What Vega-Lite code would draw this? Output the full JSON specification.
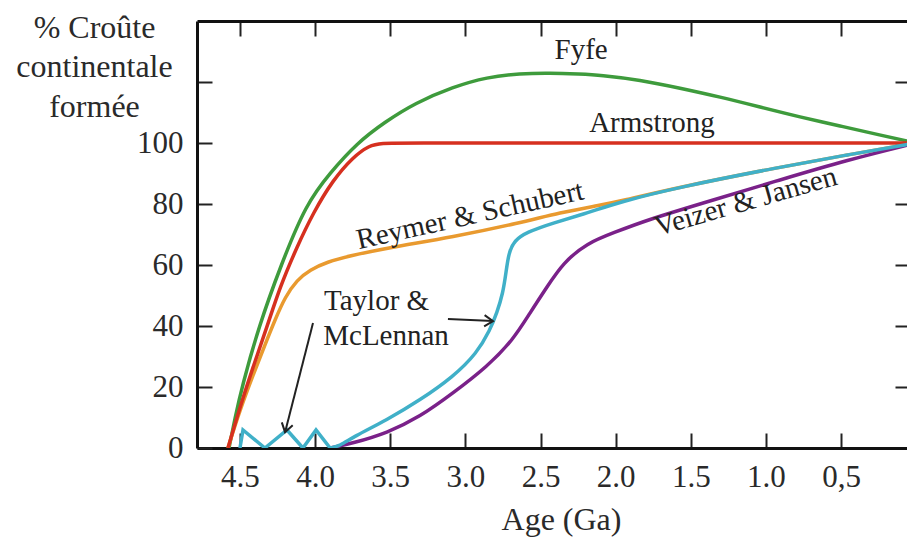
{
  "$schema": "https://vega.github.io/schema/vega-lite/v6.json",
  "width": 710,
  "height": 427,
  "autosize": {"type": "none"},
  "padding": {"left": 197, "top": 21, "right": 0, "bottom": 89},
  "background": "white",
  "config": {
    "view": {"stroke": null},
    "font": "Liberation Serif",
    "axis": {
      "labelFont": "Liberation Serif",
      "titleFont": "Liberation Serif",
      "labelFontSize": 31,
      "titleFontSize": 32,
      "titleFontWeight": "normal",
      "labelColor": "#2a2a2a",
      "titleColor": "#2a2a2a",
      "domainColor": "#111111",
      "tickColor": "#222222",
      "domainWidth": 3,
      "tickWidth": 2,
      "grid": false,
      "labelFlush": false,
      "labelOverlap": false
    }
  },
  "datasets": {
    "curves": [
      {"s": "Fyfe", "o": 0, "a": 4.573, "p": 0},
      {"s": "Fyfe", "o": 1, "a": 4.533, "p": 9.8},
      {"s": "Fyfe", "o": 2, "a": 4.487, "p": 20},
      {"s": "Fyfe", "o": 3, "a": 4.374, "p": 40},
      {"s": "Fyfe", "o": 4, "a": 4.227, "p": 60},
      {"s": "Fyfe", "o": 5, "a": 4.061, "p": 80},
      {"s": "Fyfe", "o": 6, "a": 3.901, "p": 90.2},
      {"s": "Fyfe", "o": 7, "a": 3.721, "p": 100},
      {"s": "Fyfe", "o": 8, "a": 3.535, "p": 106.9},
      {"s": "Fyfe", "o": 9, "a": 3.335, "p": 113.1},
      {"s": "Fyfe", "o": 10, "a": 3.082, "p": 118.4},
      {"s": "Fyfe", "o": 11, "a": 2.856, "p": 121.6},
      {"s": "Fyfe", "o": 12, "a": 2.636, "p": 122.8},
      {"s": "Fyfe", "o": 13, "a": 2.437, "p": 123.0},
      {"s": "Fyfe", "o": 14, "a": 2.237, "p": 122.6},
      {"s": "Fyfe", "o": 15, "a": 2.104, "p": 122.3},
      {"s": "Fyfe", "o": 16, "a": 1.838, "p": 120.7},
      {"s": "Fyfe", "o": 17, "a": 1.572, "p": 118.0},
      {"s": "Fyfe", "o": 18, "a": 1.305, "p": 115.1},
      {"s": "Fyfe", "o": 19, "a": 1.039, "p": 111.8},
      {"s": "Fyfe", "o": 20, "a": 0.773, "p": 108.5},
      {"s": "Fyfe", "o": 21, "a": 0.507, "p": 105.6},
      {"s": "Fyfe", "o": 22, "a": 0.24, "p": 102.6},
      {"s": "Fyfe", "o": 23, "a": 0, "p": 100},
      {"s": "Reymer", "o": 0, "a": 4.58, "p": 0},
      {"s": "Reymer", "o": 1, "a": 4.5, "p": 12.5},
      {"s": "Reymer", "o": 2, "a": 4.413, "p": 23.9},
      {"s": "Reymer", "o": 3, "a": 4.334, "p": 33.8},
      {"s": "Reymer", "o": 4, "a": 4.267, "p": 42.0},
      {"s": "Reymer", "o": 5, "a": 4.2, "p": 49.5},
      {"s": "Reymer", "o": 6, "a": 4.121, "p": 55.1},
      {"s": "Reymer", "o": 7, "a": 4.034, "p": 58.4},
      {"s": "Reymer", "o": 8, "a": 3.921, "p": 61.0},
      {"s": "Reymer", "o": 9, "a": 3.768, "p": 63.0},
      {"s": "Reymer", "o": 10, "a": 3.522, "p": 65.6},
      {"s": "Reymer", "o": 11, "a": 3.082, "p": 69.2},
      {"s": "Reymer", "o": 12, "a": 2.636, "p": 73.8},
      {"s": "Reymer", "o": 13, "a": 2.37, "p": 77.2},
      {"s": "Reymer", "o": 14, "a": 2.104, "p": 79.6},
      {"s": "Reymer", "o": 15, "a": 1.971, "p": 80.9},
      {"s": "Reymer", "o": 16, "a": 1.572, "p": 85.6},
      {"s": "Reymer", "o": 17, "a": 0.906, "p": 92.1},
      {"s": "Reymer", "o": 18, "a": 0.46, "p": 96.1},
      {"s": "Reymer", "o": 19, "a": 0, "p": 100},
      {"s": "Armstrong", "o": 0, "a": 4.58, "p": 0},
      {"s": "Armstrong", "o": 1, "a": 4.5, "p": 13.4},
      {"s": "Armstrong", "o": 2, "a": 4.413, "p": 26.6},
      {"s": "Armstrong", "o": 3, "a": 4.32, "p": 39.7},
      {"s": "Armstrong", "o": 4, "a": 4.234, "p": 52.8},
      {"s": "Armstrong", "o": 5, "a": 4.121, "p": 65.9},
      {"s": "Armstrong", "o": 6, "a": 4.014, "p": 77.0},
      {"s": "Armstrong", "o": 7, "a": 3.881, "p": 87.9},
      {"s": "Armstrong", "o": 8, "a": 3.748, "p": 95.4},
      {"s": "Armstrong", "o": 9, "a": 3.64, "p": 99.2},
      {"s": "Armstrong", "o": 10, "a": 3.56, "p": 100},
      {"s": "Armstrong", "o": 11, "a": 3.4, "p": 100},
      {"s": "Armstrong", "o": 12, "a": 2.5, "p": 100},
      {"s": "Armstrong", "o": 13, "a": 1.0, "p": 100},
      {"s": "Armstrong", "o": 14, "a": 0, "p": 100},
      {"s": "Veizer", "o": 0, "a": 3.90, "p": 0},
      {"s": "Veizer", "o": 1, "a": 3.748, "p": 1.6},
      {"s": "Veizer", "o": 2, "a": 3.522, "p": 4.9},
      {"s": "Veizer", "o": 3, "a": 3.302, "p": 10.2},
      {"s": "Veizer", "o": 4, "a": 3.082, "p": 18.0},
      {"s": "Veizer", "o": 5, "a": 2.856, "p": 26.6},
      {"s": "Veizer", "o": 6, "a": 2.683, "p": 35.4},
      {"s": "Veizer", "o": 7, "a": 2.57, "p": 44.3},
      {"s": "Veizer", "o": 8, "a": 2.457, "p": 52.8},
      {"s": "Veizer", "o": 9, "a": 2.35, "p": 60.7},
      {"s": "Veizer", "o": 10, "a": 2.19, "p": 67.2},
      {"s": "Veizer", "o": 11, "a": 2.017, "p": 70.5},
      {"s": "Veizer", "o": 12, "a": 1.791, "p": 74.8},
      {"s": "Veizer", "o": 13, "a": 1.352, "p": 81.3},
      {"s": "Veizer", "o": 14, "a": 0.906, "p": 87.9},
      {"s": "Veizer", "o": 15, "a": 0.46, "p": 94.4},
      {"s": "Veizer", "o": 16, "a": 0, "p": 100},
      {"s": "Taylor", "o": 0, "a": 3.90, "p": 0},
      {"s": "Taylor", "o": 1, "a": 3.834, "p": 0.7},
      {"s": "Taylor", "o": 2, "a": 3.748, "p": 3.6},
      {"s": "Taylor", "o": 3, "a": 3.522, "p": 9.2},
      {"s": "Taylor", "o": 4, "a": 3.302, "p": 15.7},
      {"s": "Taylor", "o": 5, "a": 3.082, "p": 23.3},
      {"s": "Taylor", "o": 6, "a": 2.923, "p": 31.1},
      {"s": "Taylor", "o": 7, "a": 2.836, "p": 38.7},
      {"s": "Taylor", "o": 8, "a": 2.79, "p": 44.3},
      {"s": "Taylor", "o": 9, "a": 2.75, "p": 50.8},
      {"s": "Taylor", "o": 10, "a": 2.73, "p": 57.4},
      {"s": "Taylor", "o": 11, "a": 2.712, "p": 63.9},
      {"s": "Taylor", "o": 12, "a": 2.675, "p": 68.0},
      {"s": "Taylor", "o": 13, "a": 2.59, "p": 70.8},
      {"s": "Taylor", "o": 14, "a": 2.417, "p": 73.8},
      {"s": "Taylor", "o": 15, "a": 2.19, "p": 77.0},
      {"s": "Taylor", "o": 16, "a": 1.971, "p": 80.7},
      {"s": "Taylor", "o": 17, "a": 1.572, "p": 85.6},
      {"s": "Taylor", "o": 18, "a": 0.906, "p": 92.1},
      {"s": "Taylor", "o": 19, "a": 0.46, "p": 96.1},
      {"s": "Taylor", "o": 20, "a": 0, "p": 100}
    ],
    "zigzag": [
      {"o": 0, "a": 4.5, "p": 0},
      {"o": 1, "a": 4.48, "p": 5.9},
      {"o": 2, "a": 4.334, "p": 0},
      {"o": 3, "a": 4.187, "p": 5.9},
      {"o": 4, "a": 4.081, "p": 0},
      {"o": 5, "a": 3.994, "p": 5.9},
      {"o": 6, "a": 3.90, "p": 0}
    ],
    "arrows": [
      {"a": 3.116, "p": 42.3, "a2": 2.816, "p2": 41.6, "ang": 2.5},
      {"a": 4.014, "p": 41.0, "a2": 4.2, "p2": 5.2, "ang": 104.7}
    ],
    "labels": [
      {"t": "Fyfe", "a": 2.23, "p": 127.5, "ang": 0},
      {"t": "Armstrong", "a": 1.758, "p": 103.6, "ang": 0},
      {"t": "Reymer & Schubert", "a": 2.956, "p": 73.4, "ang": -12.5},
      {"t": "Veizer & Jansen", "a": 1.119, "p": 78.0, "ang": -16},
      {"t": "Taylor &", "a": 3.591, "p": 45.2, "ang": 0},
      {"t": "McLennan", "a": 3.528, "p": 33.8, "ang": 0}
    ]
  },
  "resolve": {"axis": {"x": "independent", "y": "independent"}},
  "layer": [
    {
      "data": {"name": "curves"},
      "mark": {"type": "line", "interpolate": "basis", "strokeWidth": 3.5, "clip": true},
      "encoding": {
        "x": {
          "field": "a", "type": "quantitative",
          "scale": {"domain": [4.786, 0.061], "nice": false, "zero": false},
          "axis": {
            "orient": "bottom",
            "values": [4.5, 4, 3.5, 3, 2.5, 2, 1.5, 1, 0.5],
            "labelExpr": "datum.value == 0.5 ? '0,5' : format(datum.value, '.1f')",
            "tickSize": -15,
            "labelPadding": 29,
            "title": "Age (Ga)",
            "titleX": 364,
            "titleY": 56,
            "titleAlign": "center",
            "titleBaseline": "top"
          }
        },
        "y": {
          "field": "p", "type": "quantitative",
          "scale": {"domain": [0, 140], "nice": false, "zero": false},
          "axis": {
            "orient": "left",
            "values": [0, 20, 40, 60, 80, 100, 120],
            "labelExpr": "datum.value <= 100 ? datum.label : ''",
            "tickSize": -15,
            "labelPadding": 29,
            "title": ["% Croûte", "continentale", "formée"],
            "titleAngle": 0,
            "titleAlign": "center",
            "titleBaseline": "alphabetic",
            "titleX": -103,
            "titleY": 16,
            "titleLineHeight": 39.5
          }
        },
        "color": {
          "field": "s", "type": "nominal",
          "scale": {
            "domain": ["Fyfe", "Reymer", "Armstrong", "Veizer", "Taylor"],
            "range": ["#3e9b3c", "#e99a2f", "#d6301f", "#7a2189", "#40b0c8"]
          },
          "legend": null
        },
        "order": {"field": "o", "type": "quantitative"}
      }
    },
    {
      "data": {"name": "zigzag"},
      "mark": {"type": "line", "strokeWidth": 3.5, "color": "#40b0c8", "clip": true},
      "encoding": {
        "x": {
          "field": "a", "type": "quantitative",
          "scale": {"domain": [4.786, 0.061], "nice": false, "zero": false},
          "axis": {
            "orient": "top",
            "values": [4.5, 4, 3.5, 3, 2.5, 2, 1.5, 1, 0.5],
            "labels": false,
            "tickSize": -15,
            "title": null
          }
        },
        "y": {
          "field": "p", "type": "quantitative",
          "scale": {"domain": [0, 140], "nice": false, "zero": false},
          "axis": {
            "orient": "right",
            "values": [20, 40, 60, 80, 100, 120],
            "labels": false,
            "domain": false,
            "tickSize": -12,
            "title": null
          }
        },
        "order": {"field": "o", "type": "quantitative"}
      }
    },
    {
      "data": {"name": "arrows"},
      "mark": {"type": "rule", "strokeWidth": 2, "color": "#222222"},
      "encoding": {
        "x": {"field": "a", "type": "quantitative", "scale": {"domain": [4.786, 0.061], "nice": false, "zero": false}, "axis": null},
        "y": {"field": "p", "type": "quantitative", "scale": {"domain": [0, 140], "nice": false, "zero": false}, "axis": null},
        "x2": {"field": "a2"},
        "y2": {"field": "p2"}
      }
    },
    {
      "data": {"name": "arrows"},
      "mark": {"type": "point", "shape": "M -1 -0.65 L 0 0 L -1 0.65", "filled": false, "strokeWidth": 2, "color": "#222222", "size": 300, "opacity": 1},
      "encoding": {
        "x": {"field": "a2", "type": "quantitative", "scale": {"domain": [4.786, 0.061], "nice": false, "zero": false}, "axis": null},
        "y": {"field": "p2", "type": "quantitative", "scale": {"domain": [0, 140], "nice": false, "zero": false}, "axis": null},
        "angle": {"field": "ang", "type": "quantitative", "scale": null}
      }
    },
    {
      "data": {"name": "labels"},
      "mark": {"type": "text", "font": "Liberation Serif", "fontSize": 29, "color": "#222222", "align": "center", "baseline": "alphabetic"},
      "encoding": {
        "x": {"field": "a", "type": "quantitative", "scale": {"domain": [4.786, 0.061], "nice": false, "zero": false}, "axis": null},
        "y": {"field": "p", "type": "quantitative", "scale": {"domain": [0, 140], "nice": false, "zero": false}, "axis": null},
        "text": {"field": "t"},
        "angle": {"field": "ang", "type": "quantitative", "scale": null}
      }
    }
  ]
}
